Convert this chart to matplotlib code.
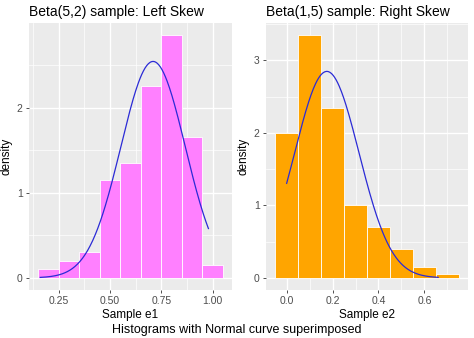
import numpy as np
import matplotlib
matplotlib.use("Agg")
import matplotlib.pyplot as plt

# Histogram data (density), bin width 0.1
e1_centers = [0.2, 0.3, 0.4, 0.5, 0.6, 0.7, 0.8, 0.9, 1.0]
e1_density = [0.1, 0.2, 0.3, 1.15, 1.35, 2.25, 2.85, 1.65, 0.15]
e2_centers = [0.0, 0.1, 0.2, 0.3, 0.4, 0.5, 0.6, 0.7]
e2_density = [2.0, 3.35, 2.35, 1.0, 0.7, 0.4, 0.15, 0.05]
binwidth = 0.1

# Normal curve parameters (mean, sd, data range)
e1_mean, e1_sd, e1_range = 0.71, 0.157, (0.16, 0.98)
e2_mean, e2_sd, e2_range = 0.175, 0.14, (0.0, 0.66)

titles = ["Beta(5,2) sample: Left Skew", "Beta(1,5) sample: Right Skew"]
xlabels = ["Sample e1", "Sample e2"]
caption = "Histograms with Normal curve superimposed"

plt.rcParams['font.family'] = ['Liberation Sans', 'DejaVu Sans']

fig = plt.figure(figsize=(4.74, 3.38), dpi=100)
W, H = 474, 338
panels = [(29, 23, 232, 290), (266, 23, 468, 290)]


def normal_pdf(x, m, s):
    return np.exp(-0.5 * ((x - m) / s) ** 2) / (s * np.sqrt(2 * np.pi))


def style(ax, xmaj, xmin, ymaj, ymin):
    ax.set_facecolor("#EBEBEB")
    for sp in ax.spines.values():
        sp.set_visible(False)
    ax.set_xticks(xmaj)
    ax.set_xticks(xmin, minor=True)
    ax.set_yticks(ymaj)
    ax.set_yticks(ymin, minor=True)
    ax.grid(which="major", color="white", lw=1.0)
    ax.grid(which="minor", color="white", lw=0.5)
    ax.set_axisbelow(True)
    ax.tick_params(which="major", length=2.5, width=0.6, color="#333333",
                   labelsize=7.5, labelcolor="#4D4D4D", pad=2)
    ax.tick_params(which="minor", length=0)


sets = [
    (e1_centers, e1_density, "#FF80FF", e1_mean, e1_sd, e1_range,
     [0.25, 0.50, 0.75, 1.00], ["0.25", "0.50", "0.75", "1.00"],
     [0.125, 0.375, 0.625, 0.875], [0, 1, 2], [0.5, 1.5, 2.5]),
    (e2_centers, e2_density, "#FFA500", e2_mean, e2_sd, e2_range,
     [0.0, 0.2, 0.4, 0.6], ["0.0", "0.2", "0.4", "0.6"],
     [0.1, 0.3, 0.5, 0.7], [0, 1, 2, 3], [0.5, 1.5, 2.5, 3.5]),
]

for i, (centers, dens, col, m, s, rng, xmaj, xlab, xmin, ymaj, ymin) in enumerate(sets):
    x0, y0, x1, y1 = panels[i]
    ax = fig.add_axes([x0 / W, 1 - y1 / H, (x1 - x0) / W, (y1 - y0) / H])
    ax.bar(centers, dens, width=binwidth, color=col, edgecolor="white", lw=0.6, zorder=2)
    xs = np.linspace(rng[0], rng[1], 200)
    ax.plot(xs, normal_pdf(xs, m, s), color="#2B2BD6", lw=0.9, zorder=3)
    lo = centers[0] - binwidth / 2
    hi = centers[-1] + binwidth / 2
    pad = (hi - lo) * 0.05
    ax.set_xlim(lo - pad, hi + pad)
    top = max(dens)
    ax.set_ylim(-top * 0.05, top * 1.05)
    style(ax, xmaj, xmin, ymaj, ymin)
    ax.set_xticklabels(xlab)
    ax.set_title(titles[i], loc="left", fontsize=10, pad=5)
    ax.set_xlabel(xlabels[i], fontsize=8.5, labelpad=2)
    ax.set_ylabel("density", fontsize=8.5, labelpad=3)

fig.text(0.5, 1 - 330 / H, caption, ha="center", va="center", fontsize=9)

fig.savefig("out.png", dpi=100)
